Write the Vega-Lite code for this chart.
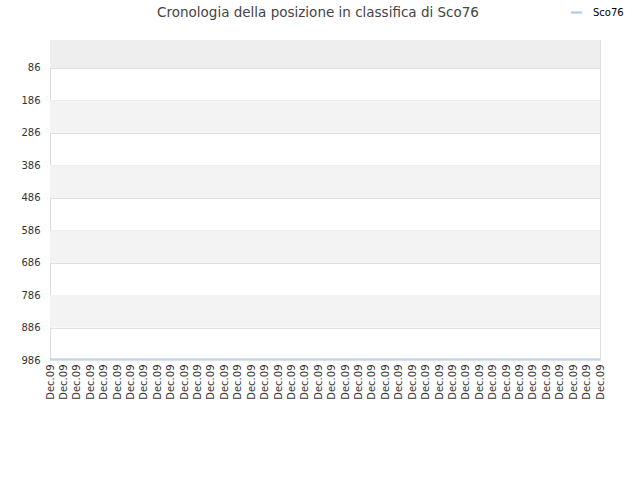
{
  "$schema": "https://vega.github.io/schema/vega-lite/v6.json",
  "width": 550,
  "height": 320,
  "autosize": {"type": "none"},
  "padding": {"left": 50, "top": 40, "right": 40, "bottom": 120},
  "background": "white",
  "title": {
    "text": "Cronologia della posizione in classifica di Sco76",
    "font": "DejaVu Sans",
    "fontSize": 13.5,
    "fontWeight": "normal",
    "color": "#444444",
    "anchor": "middle",
    "offset": 0,
    "dx": -7,
    "dy": 13
  },
  "datasets": {
    "bands": [
      {"from": 0, "to": 86, "shade": "top"},
      {"from": 186, "to": 286, "shade": "alt"},
      {"from": 386, "to": 486, "shade": "alt"},
      {"from": 586, "to": 686, "shade": "alt"},
      {"from": 786, "to": 886, "shade": "alt"}
    ],
    "ranks": [
      {"t": 1, "rank": 983, "player": "Sco76"},
      {"t": 2, "rank": 983, "player": "Sco76"},
      {"t": 3, "rank": 983, "player": "Sco76"},
      {"t": 4, "rank": 983, "player": "Sco76"},
      {"t": 5, "rank": 983, "player": "Sco76"},
      {"t": 6, "rank": 983, "player": "Sco76"},
      {"t": 7, "rank": 983, "player": "Sco76"},
      {"t": 8, "rank": 983, "player": "Sco76"},
      {"t": 9, "rank": 983, "player": "Sco76"},
      {"t": 10, "rank": 983, "player": "Sco76"},
      {"t": 11, "rank": 983, "player": "Sco76"},
      {"t": 12, "rank": 983, "player": "Sco76"},
      {"t": 13, "rank": 983, "player": "Sco76"},
      {"t": 14, "rank": 983, "player": "Sco76"},
      {"t": 15, "rank": 983, "player": "Sco76"},
      {"t": 16, "rank": 983, "player": "Sco76"},
      {"t": 17, "rank": 983, "player": "Sco76"},
      {"t": 18, "rank": 983, "player": "Sco76"},
      {"t": 19, "rank": 983, "player": "Sco76"},
      {"t": 20, "rank": 983, "player": "Sco76"},
      {"t": 21, "rank": 983, "player": "Sco76"},
      {"t": 22, "rank": 983, "player": "Sco76"},
      {"t": 23, "rank": 983, "player": "Sco76"},
      {"t": 24, "rank": 983, "player": "Sco76"},
      {"t": 25, "rank": 983, "player": "Sco76"},
      {"t": 26, "rank": 983, "player": "Sco76"},
      {"t": 27, "rank": 983, "player": "Sco76"},
      {"t": 28, "rank": 983, "player": "Sco76"},
      {"t": 29, "rank": 983, "player": "Sco76"},
      {"t": 30, "rank": 983, "player": "Sco76"},
      {"t": 31, "rank": 983, "player": "Sco76"},
      {"t": 32, "rank": 983, "player": "Sco76"},
      {"t": 33, "rank": 983, "player": "Sco76"},
      {"t": 34, "rank": 983, "player": "Sco76"},
      {"t": 35, "rank": 983, "player": "Sco76"},
      {"t": 36, "rank": 983, "player": "Sco76"},
      {"t": 37, "rank": 983, "player": "Sco76"},
      {"t": 38, "rank": 983, "player": "Sco76"},
      {"t": 39, "rank": 983, "player": "Sco76"},
      {"t": 40, "rank": 983, "player": "Sco76"},
      {"t": 41, "rank": 983, "player": "Sco76"},
      {"t": 42, "rank": 983, "player": "Sco76"}
    ]
  },
  "layer": [
    {
      "data": {"name": "bands"},
      "mark": {"type": "rect"},
      "encoding": {
        "y": {
          "field": "from",
          "type": "quantitative",
          "scale": {"domain": [0, 986], "reverse": true, "nice": false, "zero": false},
          "axis": {
            "title": null,
            "values": [86, 186, 286, 386, 486, 586, 686, 786, 886, 986],
            "labelFont": "DejaVu Sans",
            "labelFontSize": 10,
            "labelColor": "#333333",
            "labelPadding": 10,
            "ticks": false,
            "domain": false,
            "grid": true,
            "gridColor": "#e0e0e0",
            "gridWidth": 1
          }
        },
        "y2": {"field": "to"},
        "color": {
          "field": "shade",
          "type": "nominal",
          "scale": {"domain": ["top", "alt"], "range": ["#eeeeee", "#f3f3f3"]},
          "legend": null
        }
      }
    },
    {
      "data": {"name": "ranks"},
      "mark": {"type": "line", "strokeWidth": 1.2},
      "encoding": {
        "x": {
          "field": "t",
          "type": "ordinal",
          "scale": {"type": "point", "padding": 0},
          "axis": {
            "title": null,
            "labelExpr": "'Dec.09'",
            "labelAngle": -90,
            "labelAlign": "right",
            "labelBaseline": "middle",
            "labelFont": "DejaVu Sans",
            "labelFontSize": 10,
            "labelColor": "#333333",
            "labelPadding": 4,
            "ticks": false,
            "domain": false,
            "grid": false
          }
        },
        "y": {
          "field": "rank",
          "type": "quantitative",
          "scale": {"domain": [0, 986], "reverse": true, "nice": false, "zero": false},
          "axis": {
            "title": null,
            "values": [86, 186, 286, 386, 486, 586, 686, 786, 886, 986],
            "labelFont": "DejaVu Sans",
            "labelFontSize": 10,
            "labelColor": "#333333",
            "labelPadding": 10,
            "ticks": false,
            "domain": false,
            "grid": true,
            "gridColor": "#e0e0e0",
            "gridWidth": 1
          }
        },
        "stroke": {
          "field": "player",
          "type": "nominal",
          "scale": {"range": ["#a6c8f0"]},
          "legend": {
            "title": null,
            "orient": "none",
            "legendX": 520,
            "legendY": -34,
            "symbolType": "stroke",
            "symbolSize": 120,
            "symbolStrokeWidth": 2,
            "labelFont": "DejaVu Sans",
            "labelFontSize": 10,
            "labelColor": "#000000",
            "labelOffset": 10
          }
        }
      }
    }
  ],
  "config": {
    "view": {"stroke": "#dddddd", "strokeWidth": 1}
  }
}
